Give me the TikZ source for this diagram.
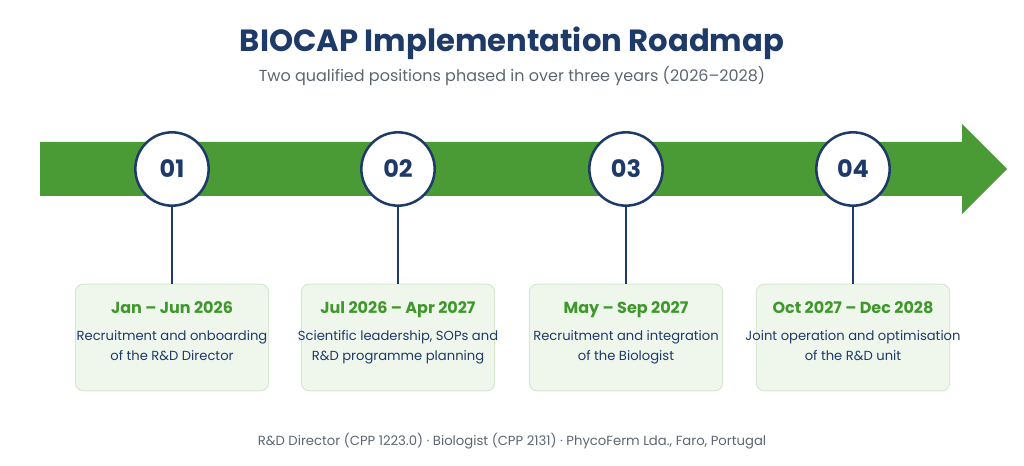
\documentclass[tikz,border=0pt]{standalone}
\usepackage{fontspec}
\setmainfont{Poppins}
\usepackage{xcolor}
\usepackage{tikz}
\definecolor{navy}{HTML}{1E3A68}
\definecolor{leaf}{HTML}{4A9B36}
\definecolor{dategreen}{HTML}{3F982C}
\definecolor{boxfill}{HTML}{EFF6EC}
\definecolor{boxline}{HTML}{D9E8D3}
\definecolor{greytext}{HTML}{5C6670}
\tikzset{
  stepcircle/.style={circle,draw=navy,line width=1.9pt,fill=white,minimum size=55pt,inner sep=0pt,
    font=\fontsize{18}{20}\selectfont\bfseries,text=navy},
  stepbox/.style={rounded corners=6pt,draw=boxline,line width=0.8pt,fill=boxfill,minimum width=145pt,
    minimum height=80pt,inner sep=0pt},
  datetext/.style={font=\fontsize{12}{14}\selectfont\bfseries,text=dategreen,anchor=base},
  bodytext/.style={font=\fontsize{9.85}{15}\selectfont,text=navy,align=center,anchor=base},
}
\begin{document}
\begin{tikzpicture}[x=0.75pt,y=-0.75pt]
    \useasboundingbox (0,0) rectangle (1024,466);
    % title
    \node[font=\fontsize{23}{28}\selectfont\bfseries,text=navy] (title) at (512,43) {BIOCAP Implementation Roadmap};
    \node[font=\fontsize{12}{14}\selectfont,text=greytext] (subtitle) at (512,76) {Two qualified positions phased in over three years (2026--2028)};
    % arrow
    \fill[leaf] (40,142) -- (962,142) -- (962,124) -- (1007,169) -- (962,214) -- (962,196) -- (40,196) -- cycle;
    \foreach \i/\x/\date/\txt in {
        1/172/Jan -- Jun 2026/{Recruitment and onboarding\\of the R\&D Director},
        2/398/Jul 2026 -- Apr 2027/{Scientific leadership, SOPs and\\R\&D programme planning},
        3/626/May -- Sep 2027/{Recruitment and integration\\of the Biologist},
        4/853/Oct 2027 -- Dec 2028/{Joint operation and optimisation\\of the R\&D unit}} {
      \node[stepbox] (box\i) at (\x,337.5) {};
      \node[datetext] (date\i) at (\x,314) {\date};
      \node[bodytext] (txt\i) at (\x,361) {\txt};
      \node[stepcircle] (c\i) at (\x,169) {0\i};
      \draw[navy,line width=1.1pt] (c\i) -- (box\i);
    }
    % footer
    \node[font=\fontsize{9.9}{11}\selectfont,text=greytext] (footer) at (512,441) {R\&D Director (CPP 1223.0) · Biologist (CPP 2131) · PhycoFerm Lda., Faro, Portugal};
\end{tikzpicture}
\end{document}
